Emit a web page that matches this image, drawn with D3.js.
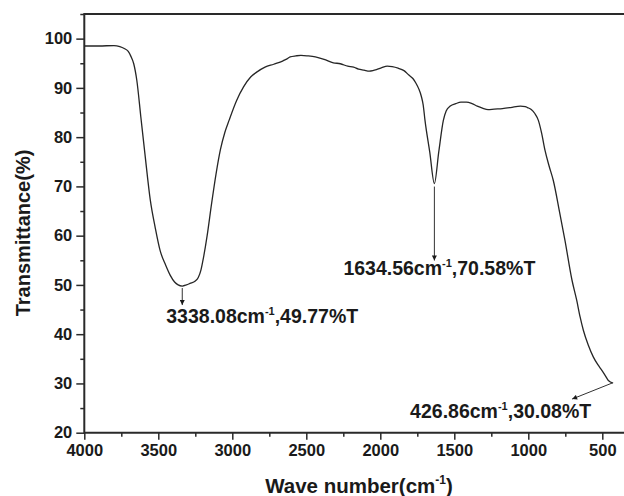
<!DOCTYPE html>
<html>
<head>
<meta charset="utf-8">
<script src="https://cdn.jsdelivr.net/npm/d3@7/dist/d3.min.js"></script>
<style>
  html, body { margin: 0; padding: 0; background: #fff; }
  svg { display: block; }
  text { font-family: "Liberation Sans", Arial, sans-serif; font-weight: bold; fill: #1a1a1a; }
</style>
</head>
<body>
<svg id="chart" width="624" height="496"></svg>
<script>
// FTIR spectrum: wavenumber (cm-1) and transmittance (%)
const wavenumber = [
  4000, 3900, 3800, 3760, 3730, 3703, 3685, 3666, 3645, 3618,
  3590, 3554, 3520, 3488, 3450, 3420, 3390, 3366, 3338.08, 3310,
  3286, 3250, 3230, 3212, 3195, 3170, 3140, 3110, 3080, 3050,
  3022, 2970, 2924, 2876, 2830, 2779, 2720, 2657, 2630, 2609,
  2570, 2536, 2490, 2439, 2380, 2317, 2270, 2220, 2180, 2147,
  2110, 2074, 2050, 2026, 1990, 1953, 1920, 1880, 1840, 1807,
  1780, 1758, 1740, 1722, 1710, 1698, 1666, 1634.56, 1605, 1574,
  1555, 1527, 1490, 1455, 1418, 1380, 1345, 1310, 1272, 1230,
  1175, 1120, 1053, 1020, 1005, 980, 956, 932, 910, 887,
  860, 831, 790, 752, 705, 673, 650, 628, 595, 561,
  530, 504, 480, 459, 426.86
];
const transmittance = [
  98.5, 98.5, 98.6, 98.4, 98.0, 97.4, 96.4, 94.9, 91.5, 84.1,
  76.5, 67.2, 61.5, 57.0, 54.0, 52.0, 50.6, 50.0, 49.77, 50.0,
  50.3, 50.8, 51.5, 53.0, 55.5, 60.0, 66.5, 72.5, 77.5, 81.0,
  83.4, 87.5, 90.2, 92.2, 93.3, 94.2, 94.8, 95.5, 95.9, 96.3,
  96.5, 96.6, 96.5, 96.3, 95.8, 95.1, 94.9, 94.4, 94.2, 93.8,
  93.6, 93.4, 93.5, 93.7, 94.1, 94.4, 94.3, 94.0, 93.5, 92.6,
  91.9, 90.9, 89.8, 88.2, 86.5, 83.4, 77.0, 70.58, 77.0, 83.4,
  85.3, 86.3, 86.8, 87.1, 87.1, 86.8, 86.3, 85.9, 85.6, 85.7,
  85.8, 86.0, 86.3, 86.2, 86.0, 85.6, 84.8, 83.4, 80.8, 77.3,
  74.2, 71.2, 65.0, 59.0, 51.0, 46.9, 43.5, 40.8, 37.8, 35.4,
  33.8, 32.7, 31.6, 30.6, 30.08
];

// Labelled peaks
const peakWavenumber = [3338.08, 1634.56, 426.86];
const peakTransmittance = [49.77, 70.58, 30.08];
const peakLabelNumber = ["3338.08cm", "1634.56cm", "426.86cm"];
const peakLabelTail = [",49.77%T", ",70.58%T", ",30.08%T"];

// Axis ticks
const xMajorTicks = [4000, 3500, 3000, 2500, 2000, 1500, 1000, 500];
const xMinorTicks = [3750, 3250, 2750, 2250, 1750, 1250, 750];
const yMajorTicks = [20, 30, 40, 50, 60, 70, 80, 90, 100];
const yMinorTicks = [25, 35, 45, 55, 65, 75, 85, 95, 105];

const svg = d3.select("#chart");
const W = 624, H = 496;
const plotLeft = 84.3, plotTop = 14, plotBottom = 432.7, plotRight = 624.5;

const x = d3.scaleLinear().domain([4000, 350]).range([plotLeft, plotRight]);
const y = d3.scaleLinear().domain([20, 105]).range([plotBottom, plotTop]);

const axisColor = "#2a2a2a";

// Arrow head marker
svg.append("defs").append("marker")
  .attr("id", "head")
  .attr("viewBox", "0 0 10 10")
  .attr("refX", 10).attr("refY", 5)
  .attr("markerWidth", 7).attr("markerHeight", 5)
  .attr("markerUnits", "userSpaceOnUse")
  .attr("orient", "auto")
  .append("path").attr("d", "M0,0 L10,5 L0,10 Z").attr("fill", "#1a1a1a");

// Minor ticks
svg.append("g")
  .attr("transform", `translate(0,${plotBottom})`)
  .call(d3.axisBottom(x).tickValues(xMinorTicks).tickSize(4).tickFormat(""))
  .call(g => g.select(".domain").remove())
  .call(g => g.selectAll("line").attr("stroke", axisColor).attr("stroke-width", 1.5));
svg.append("g")
  .attr("transform", `translate(${plotLeft},0)`)
  .call(d3.axisLeft(y).tickValues(yMinorTicks).tickSize(4).tickFormat(""))
  .call(g => g.select(".domain").remove())
  .call(g => g.selectAll("line").attr("stroke", axisColor).attr("stroke-width", 1.5));

// Major ticks and labels
const xAxis = svg.append("g")
  .attr("transform", `translate(0,${plotBottom})`)
  .call(d3.axisBottom(x).tickValues(xMajorTicks).tickSize(7).tickPadding(5).tickFormat(d3.format("d")));
xAxis.select(".domain").remove();
xAxis.selectAll("line").attr("stroke", axisColor).attr("stroke-width", 1.5);
xAxis.selectAll("text").attr("font-size", "16.5px").attr("font-family", null).attr("fill", "#1a1a1a");

const yAxis = svg.append("g")
  .attr("transform", `translate(${plotLeft},0)`)
  .call(d3.axisLeft(y).tickValues(yMajorTicks).tickSize(8).tickPadding(4).tickFormat(d3.format("d")));
yAxis.select(".domain").remove();
yAxis.selectAll("line").attr("stroke", axisColor).attr("stroke-width", 1.5);
yAxis.selectAll("text").attr("font-size", "16.5px").attr("font-family", null).attr("fill", "#1a1a1a");

// Frame: left, bottom and top lines
svg.append("path")
  .attr("d", `M${W},${plotTop} H${plotLeft} V${plotBottom} H${W}`)
  .attr("fill", "none").attr("stroke", axisColor).attr("stroke-width", 2);

// Spectrum
const pts = wavenumber.map((w, i) => [w, transmittance[i]]);
svg.append("path")
  .datum(pts)
  .attr("fill", "none")
  .attr("stroke", "#262626")
  .attr("stroke-width", 1.3)
  .attr("stroke-linejoin", "round")
  .attr("d", d3.line().x(d => x(d[0])).y(d => y(d[1])).curve(d3.curveMonotoneX));

// Peak annotations: arrow offsets and label anchors relative to the peak point
const arrowFrom = [[0, 2], [0, 3], [-1, 0]];
const arrowTo = [[0, 19], [0, 77], [-41, 16]];
const labelAt = [[-16, 37], [-91, 91], [-203, 35]];

peakWavenumber.forEach((w, i) => {
  const px = x(w), py = y(peakTransmittance[i]);
  svg.append("line")
    .attr("x1", px + arrowFrom[i][0]).attr("y1", py + arrowFrom[i][1])
    .attr("x2", px + arrowTo[i][0]).attr("y2", py + arrowTo[i][1])
    .attr("stroke", "#333").attr("stroke-width", 1)
    .attr("marker-end", "url(#head)");
  const t = svg.append("text")
    .attr("x", px + labelAt[i][0]).attr("y", py + labelAt[i][1])
    .attr("font-size", "19.5px");
  t.append("tspan").text(peakLabelNumber[i]);
  t.append("tspan").attr("font-size", "11px").attr("dy", -8).text("-1");
  t.append("tspan").attr("dy", 8).text(peakLabelTail[i]);
});

// Axis titles
const xt = svg.append("text")
  .attr("x", 359).attr("y", 493)
  .attr("text-anchor", "middle")
  .attr("font-size", "20.5px");
xt.append("tspan").text("Wave number(cm");
xt.append("tspan").attr("font-size", "12px").attr("dy", -9).text("-1");
xt.append("tspan").attr("dy", 9).text(")");

svg.append("text")
  .attr("transform", "translate(29.5,233) rotate(-90)")
  .attr("text-anchor", "middle")
  .attr("font-size", "20px")
  .text("Transmittance(%)");
</script>
</body>
</html>
